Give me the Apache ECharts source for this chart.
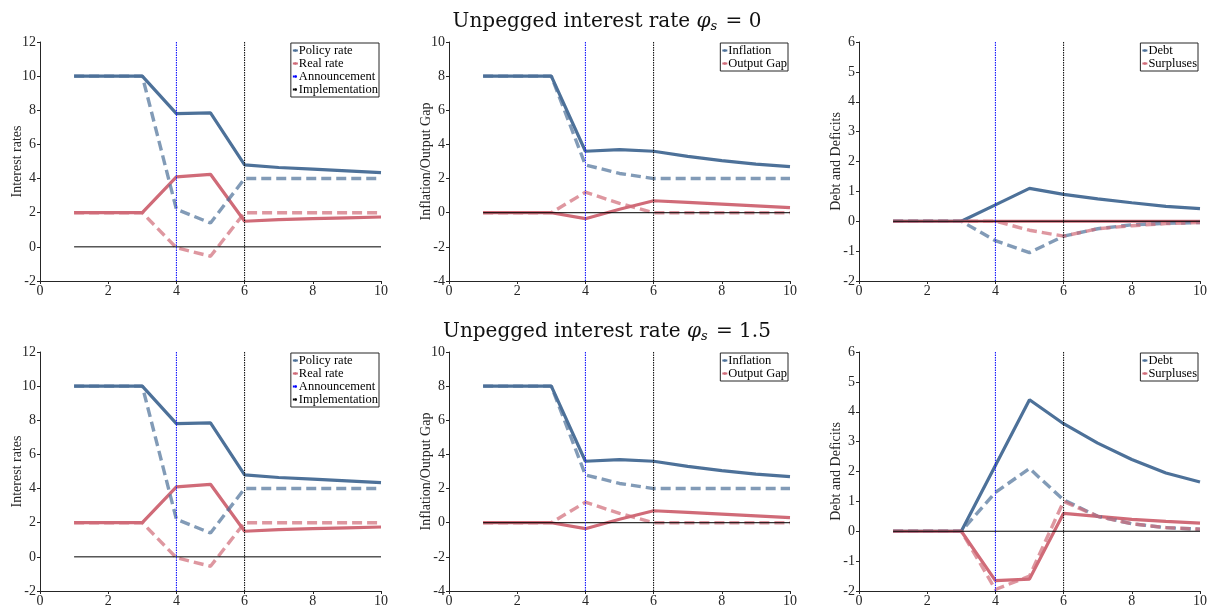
<!DOCTYPE html>
<html><head><meta charset="utf-8">
<script src="https://cdn.jsdelivr.net/npm/echarts@6/dist/echarts.min.js"></script>
<style>html,body{margin:0;padding:0;background:#fff}#c{width:1214px;height:611px}</style>
</head><body><div id="c"></div>
<script>
const periods = [1,2,3,4,5,6,7,8,9,10];
const xTicks = [0,2,4,6,8,10];
const announcement = 4;
const implementation = 6;

// Interest rate panel (same in both rows)
const policyRate      = [10,10,10,7.8,7.85,4.8,4.65,4.55,4.45,4.35];
const policyRateAlt   = [10,10,10,2.2,1.4,4,4,4,4,4];
const realRate        = [2,2,2,4.1,4.25,1.5,1.6,1.65,1.7,1.75];
const realRateAlt     = [2,2,2,-0.05,-0.55,2,2,2,2,2];

// Inflation / output gap panel (same in both rows)
const inflation       = [8,8,8,3.6,3.7,3.6,3.3,3.05,2.85,2.7];
const inflationAlt    = [8,8,8,2.8,2.3,2,2,2,2,2];
const outputGap       = [0,0,0,-0.35,0.2,0.7,0.6,0.5,0.4,0.3];
const outputGapAlt    = [0,0,0,1.2,0.55,0,0,0,0,0];

// Debt panel, phi_s = 0
const debt0           = [0,0,0,0.55,1.1,0.9,0.75,0.62,0.5,0.42];
const debt0Alt        = [0,0,0,-0.65,-1.05,-0.5,-0.25,-0.12,-0.07,-0.04];
const surplus0        = [0,0,0,0,0,0,0,0,0,0];
const surplus0Alt     = [0,0,0,0,-0.3,-0.5,-0.25,-0.15,-0.08,-0.04];

// Debt panel, phi_s = 1.5
const debt15          = [0,0,0,2.2,4.4,3.6,2.95,2.4,1.95,1.65];
const debt15Alt       = [0,0,0,1.3,2.1,1.05,0.5,0.25,0.12,0.07];
const surplus15       = [0,0,0,-1.65,-1.6,0.6,0.5,0.4,0.33,0.27];
const surplus15Alt    = [0,0,0,-1.95,-1.5,1.0,0.5,0.25,0.12,0.07];

const titles = ['0', '1.5'];

const BLUE = '#4d7199', RED = '#d06b78';
const FONT = 'Liberation Serif';
const TXT = '#262626';

const panels = [
  {row:0,col:0,ymin:-2,ymax:12,yint:2,ylabel:'Interest rates',names:['Policy rate','Real rate'],s:[policyRate,realRate,policyRateAlt,realRateAlt],vlines:true},
  {row:0,col:1,ymin:-4,ymax:10,yint:2,ylabel:'Inflation/Output Gap',names:['Inflation','Output Gap'],s:[inflation,outputGap,inflationAlt,outputGapAlt]},
  {row:0,col:2,ymin:-2,ymax:6,yint:1,ylabel:'Debt and Deficits',names:['Debt','Surpluses'],s:[debt0,surplus0,debt0Alt,surplus0Alt]},
  {row:1,col:0,ymin:-2,ymax:12,yint:2,ylabel:'Interest rates',names:['Policy rate','Real rate'],s:[policyRate,realRate,policyRateAlt,realRateAlt],vlines:true},
  {row:1,col:1,ymin:-4,ymax:10,yint:2,ylabel:'Inflation/Output Gap',names:['Inflation','Output Gap'],s:[inflation,outputGap,inflationAlt,outputGapAlt]},
  {row:1,col:2,ymin:-2,ymax:6,yint:1,ylabel:'Debt and Deficits',names:['Debt','Surpluses'],s:[debt15,surplus15,debt15Alt,surplus15Alt]}
];

const lefts = [40, 449, 859];
const tops = [42, 352];
const W = 341, H = 239;

const grid = [], xAxis = [], yAxis = [], series = [], legend = [];
panels.forEach((p, i) => {
  grid.push({left: lefts[p.col], top: tops[p.row], width: W, height: H});
  xAxis.push({type:'value', gridIndex:i, min:0, max:10, interval:2,
    axisLine:{show:true, onZero:false, lineStyle:{color:TXT, width:1}},
    axisTick:{show:true, length:3, lineStyle:{color:TXT}},
    axisLabel:{color:TXT, fontFamily:FONT, fontSize:14, margin:3},
    splitLine:{show:false}});
  yAxis.push({type:'value', gridIndex:i, min:p.ymin, max:p.ymax, interval:p.yint,
    name:p.ylabel, nameLocation:'middle', nameGap:16, nameMoveOverlap:false,
    nameTextStyle:{color:TXT, fontFamily:FONT, fontSize:14},
    axisLine:{show:true, onZero:false, lineStyle:{color:TXT, width:1}},
    axisTick:{show:true, length:3, lineStyle:{color:TXT}},
    axisLabel:{color:TXT, fontFamily:FONT, fontSize:14, margin:4},
    splitLine:{show:false}});
  const mk = (arr) => periods.map((x, k) => [x, arr[k]]);
  const cols = [BLUE, RED];
  for (let j = 0; j < 2; j++) {
    series.push({type:'line', name:p.names[j], xAxisIndex:i, yAxisIndex:i, data:mk(p.s[j]),
      symbol:'none', silent:true, animation:false,
      lineStyle:{color:cols[j], width:3.2}, itemStyle:{color:cols[j]}, z:2});
  }
  for (let j = 0; j < 2; j++) {
    series.push({type:'line', name:p.names[j] + ' (alt)', xAxisIndex:i, yAxisIndex:i, data:mk(p.s[j+2]),
      symbol:'none', silent:true, animation:false,
      lineStyle:{color:cols[j], width:3.4, type:[10,5], opacity:0.7}, itemStyle:{color:cols[j]}, z:3});
  }
  series.push({type:'line', name:'zero', xAxisIndex:i, yAxisIndex:i, data:[[periods[0],0],[periods[periods.length-1],0]],
    symbol:'none', silent:true, animation:false, lineStyle:{color:'#000', width:1}, z:4});
  series.push({type:'line', name:'Announcement', xAxisIndex:i, yAxisIndex:i, data:[[announcement,p.ymin],[announcement,p.ymax]],
    symbol:'none', silent:true, animation:false, lineStyle:{color:'#0000ff', width:1, type:[1.5,1]}, itemStyle:{color:'#0000ff'}, z:5});
  series.push({type:'line', name:'Implementation', xAxisIndex:i, yAxisIndex:i, data:[[implementation,p.ymin],[implementation,p.ymax]],
    symbol:'none', silent:true, animation:false, lineStyle:{color:'#000', width:1, type:[1.5,1]}, itemStyle:{color:'#000'}, z:5});
  const legData = p.vlines ? [p.names[0], p.names[1], 'Announcement', 'Implementation'] : [p.names[0], p.names[1]];
  legend.push({data:legData, orient:'vertical', right:1214 - (lefts[p.col] + W) + 2, top:tops[p.row] + 1,
    itemWidth:5, itemHeight:3, itemGap:0, padding:[1,1,1,1],
    borderColor:TXT, borderWidth:1, backgroundColor:'#fff',
    textStyle:{fontFamily:FONT, fontSize:12.5, color:'#000', padding:[0,0,0,-4]},
    selectedMode:false, z:10});
});

const title = titles.map((v, r) => ({
  text:'{a|Unpegged interest rate }{b|φ}{c|s}{a| = ' + v + '}',
  left:'center', top: r === 0 ? 5 : 315,
  textStyle:{fontWeight:'normal', rich:{
    a:{fontFamily:'DejaVu Serif', fontSize:20, fontWeight:'normal', color:'#111'},
    b:{fontFamily:'DejaVu Serif', fontSize:20, fontWeight:'normal', fontStyle:'italic', color:'#111'},
    c:{fontFamily:'DejaVu Serif', fontSize:13, fontWeight:'normal', fontStyle:'italic', color:'#111', padding:[10,2,0,0]}
  }}
}));

const chart = echarts.init(document.getElementById('c'), null, {renderer:'canvas'});
chart.setOption({animation:false, backgroundColor:'#fff', title, grid, xAxis, yAxis, series, legend});
</script></body></html>
